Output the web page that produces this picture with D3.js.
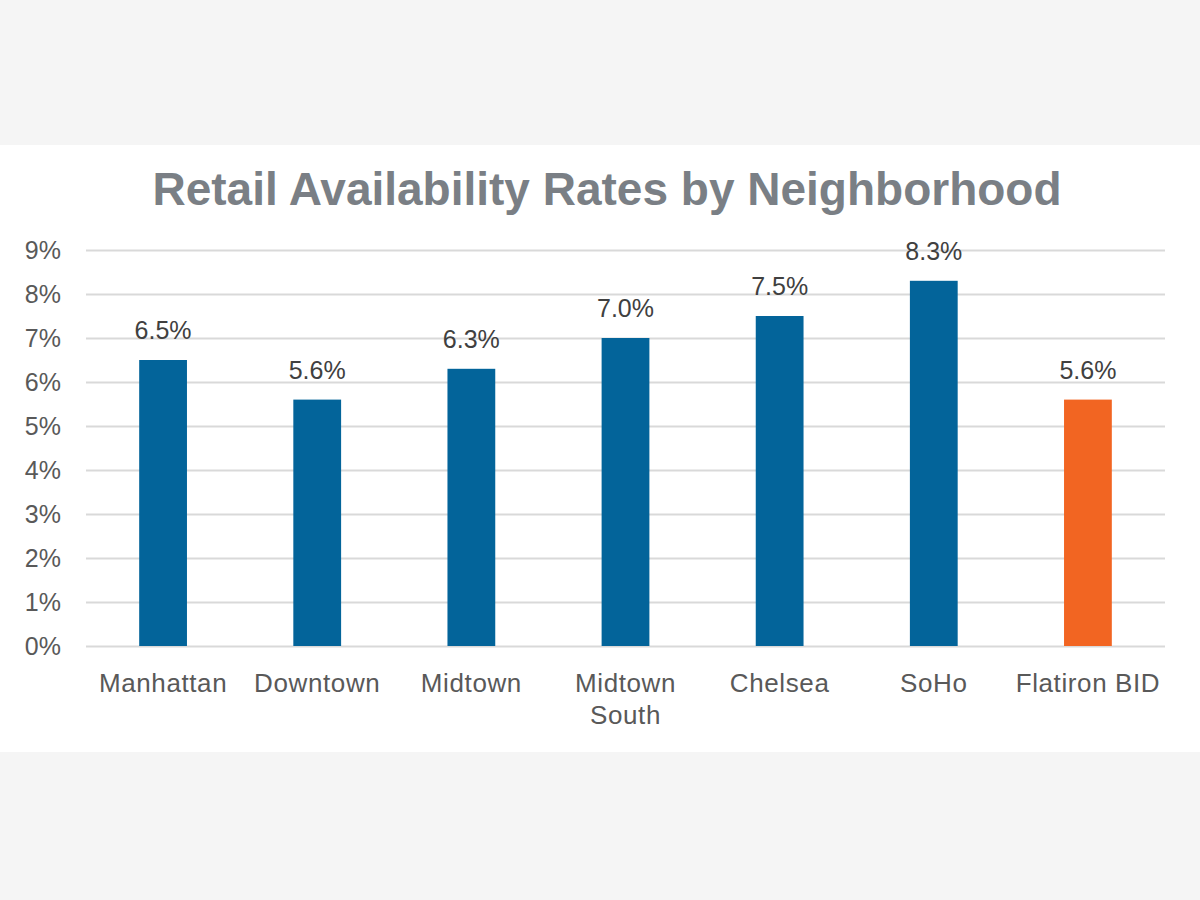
<!DOCTYPE html>
<html>
<head>
<meta charset="utf-8">
<script src="https://cdn.jsdelivr.net/npm/d3@7"></script>
<style>
  body { margin: 0; background: #f5f5f5; }
  svg { display: block; }
</style>
</head>
<body>
<div id="chart"></div>
<script>
const categories = ['Manhattan', 'Downtown', 'Midtown', 'Midtown South', 'Chelsea', 'SoHo', 'Flatiron BID'];
const rates = [6.5, 5.6, 6.3, 7.0, 7.5, 8.3, 5.6];
const highlight = ['Flatiron BID'];
const yTicks = [0, 1, 2, 3, 4, 5, 6, 7, 8, 9];
const title = 'Retail Availability Rates by Neighborhood';

const W = 1200, H = 900;
const margin = { top: 250, right: 35, bottom: 254, left: 86 };
const width = W - margin.left - margin.right;
const height = H - margin.top - margin.bottom;
const font = 'Liberation Sans, Arial, sans-serif';

const svg = d3.select('#chart')
  .append('svg')
    .attr('width', W)
    .attr('height', H);

svg.append('rect')
    .attr('x', 0).attr('y', 145)
    .attr('width', W).attr('height', 607)
    .attr('fill', '#fff');

svg.append('text')
    .attr('x', 607).attr('y', 205)
    .attr('text-anchor', 'middle')
    .attr('font-family', font)
    .attr('font-weight', 'bold')
    .attr('font-size', 46)
    .attr('fill', '#7a7f85')
    .text(title);

const chart = svg.append('g')
    .attr('transform', `translate(${margin.left},${margin.top})`);

const x = d3.scaleBand()
  .domain(categories)
  .range([0, width])
  .paddingInner(0.69)
  .paddingOuter(0.345);

const y = d3.scaleLinear()
  .domain([0, 9])
  .range([height, 0]);

// gridlines + y labels
const yAxis = chart.append('g')
    .call(d3.axisLeft(y).tickValues(yTicks).tickSize(-width).tickFormat(d => d + '%'));
yAxis.select('.domain').remove();
yAxis.selectAll('.tick line')
    .attr('stroke', '#d9d9d9')
    .attr('stroke-width', 2);
yAxis.selectAll('.tick text')
    .attr('x', -25)
    .attr('fill', '#595959')
    .attr('font-family', font)
    .attr('font-size', 25);

chart.selectAll('.bar')
  .data(categories)
  .join('rect')
    .attr('class', 'bar')
    .attr('x', d => x(d))
    .attr('y', (d, i) => y(rates[i]))
    .attr('width', x.bandwidth())
    .attr('height', (d, i) => height - y(rates[i]))
    .attr('fill', d => highlight.includes(d) ? '#f26522' : '#03649a');

chart.selectAll('.val')
  .data(categories)
  .join('text')
    .attr('class', 'val')
    .attr('x', d => x(d) + x.bandwidth() / 2)
    .attr('y', (d, i) => y(rates[i]) - 21)
    .attr('text-anchor', 'middle')
    .attr('fill', '#404040')
    .attr('font-family', font)
    .attr('font-size', 25)
    .text((d, i) => rates[i].toFixed(1) + '%');

// category labels, wrapped on the space for the long two-word name
const xAxis = chart.append('g')
    .attr('transform', `translate(0,${height})`)
    .call(d3.axisBottom(x).tickSize(0).tickFormat(''));
xAxis.select('.domain').remove();
xAxis.selectAll('.tick').each(function(d) {
  const lines = d === 'Midtown South' ? d.split(' ') : [d];
  const t = d3.select(this).append('text')
      .attr('text-anchor', 'middle')
      .attr('fill', '#595959')
      .attr('font-family', font)
      .attr('font-size', 26)
      .attr('letter-spacing', 0.6);
  lines.forEach((l, i) => {
    t.append('tspan').attr('x', 0).attr('y', 46 + i * 32).text(l);
  });
});
</script>
</body>
</html>
